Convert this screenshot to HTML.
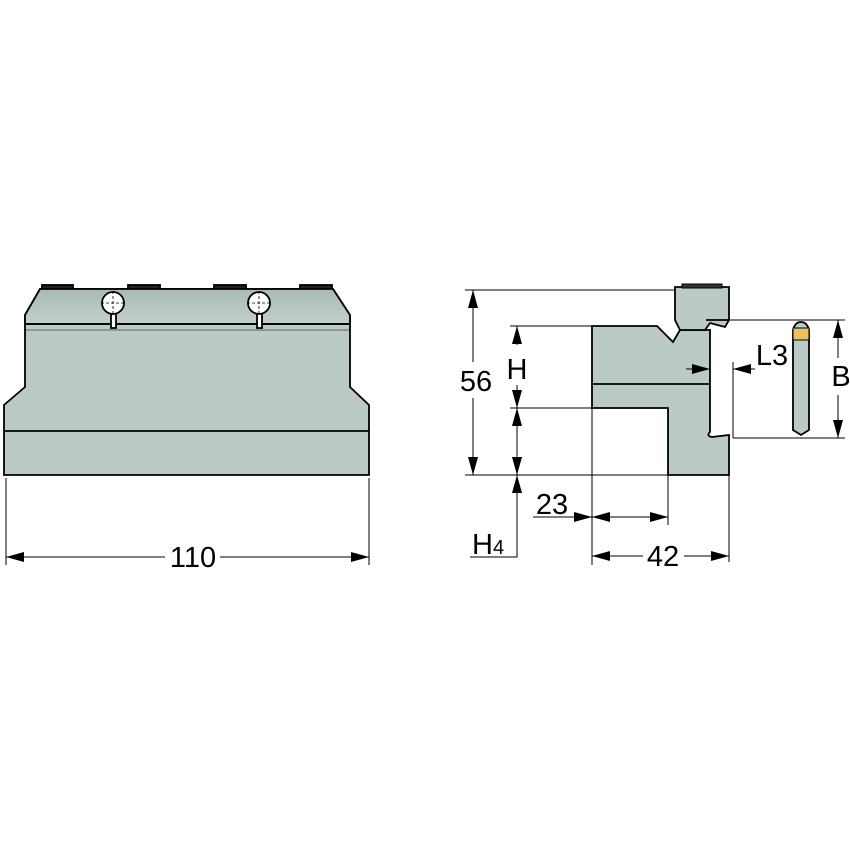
<!DOCTYPE html>
<html><head><style>html,body{margin:0;background:#fff}svg{display:block}</style></head><body>
<svg width="850" height="850" viewBox="0 0 850 850" xmlns="http://www.w3.org/2000/svg" font-family="Liberation Sans, sans-serif">
<defs>
<marker id="a" viewBox="0 0 18 12" refX="18" refY="6" markerWidth="18" markerHeight="12" markerUnits="userSpaceOnUse" orient="auto-start-reverse"><path d="M0,1 L18,6 L0,11z" fill="#000"/></marker>
<linearGradient id="g" x1="0" y1="0" x2="0" y2="1"><stop offset="0" stop-color="#a9bab6"/><stop offset="1" stop-color="#c2d0cd"/></linearGradient>
</defs>
<g stroke="#000" stroke-width="1.8">
<g fill="#222"><rect x="42" y="285" width="31" height="4"/><rect x="128" y="285" width="32" height="4"/><rect x="214" y="285" width="32" height="4"/><rect x="300" y="285" width="32" height="4"/></g>
<path d="M40,289 L333,289 L350,315 L350,387 L369,405 L369,475 L4,475 L4,405 L25,387 L25,315 Z" fill="#bccac7"/>
<path d="M40,289 L333,289 L350,315 L350,324 L25,324 L25,315 Z" fill="url(#g)"/>
<line x1="25" y1="324" x2="350" y2="324"/>
<line x1="25" y1="330" x2="350" y2="330" stroke-width="0.6"/>
<line x1="4" y1="431" x2="369" y2="431"/>
<g fill="#fff"><rect x="111" y="308" width="5" height="20"/><circle cx="113" cy="303" r="11"/><rect x="257" y="308" width="5" height="20"/><circle cx="259" cy="303" r="11"/></g>
<g stroke-width="0.8"><path d="M101,303h24M113,291v24M247,303h24M259,291v24" stroke-dasharray="3,2"/></g>
<path d="M592,326 L657,326 L673,342 L680,330 L710,330 L710,432 Q706,436 712,437 L729,435 L729,475 L668,475 L668,408 L592,408 Z" fill="#bccac7"/>
<line x1="592" y1="384" x2="710" y2="384"/>
<path d="M675,287 L729,287 L729,320 L725,327 L710,323 L705,330 L680,330 L675,320 Z" fill="#bccac7"/>
<rect x="682" y="284" width="40" height="4" fill="#333" stroke-width="1"/>
<line x1="706" y1="320" x2="729" y2="320"/>
<g stroke-width="1" fill="none">
<line x1="465" y1="290" x2="675" y2="290"/>
<line x1="465" y1="475" x2="668" y2="475"/>
<line x1="510" y1="326" x2="592" y2="326"/>
<line x1="510" y1="408" x2="592" y2="408"/>
<line x1="729" y1="320" x2="845" y2="320"/>
<line x1="733" y1="438" x2="845" y2="438"/>
<line x1="592" y1="408" x2="592" y2="565"/>
<line x1="668" y1="475" x2="668" y2="525"/>
<line x1="729" y1="475" x2="729" y2="562"/>
<line x1="733" y1="362" x2="733" y2="438"/>
<line x1="6" y1="478" x2="6" y2="565"/>
<line x1="369" y1="478" x2="369" y2="565"/>
<line x1="473" y1="290" x2="473" y2="362" marker-start="url(#a)"/>
<line x1="473" y1="398" x2="473" y2="475" marker-end="url(#a)"/>
<line x1="517" y1="326" x2="517" y2="345" marker-start="url(#a)"/>
<line x1="517" y1="385" x2="517" y2="408" marker-end="url(#a)"/>
<line x1="517" y1="408" x2="517" y2="475" marker-start="url(#a)" marker-end="url(#a)"/>
<polyline points="470,557 517,557 517,475" marker-end="url(#a)"/>
<line x1="533" y1="517" x2="592" y2="517" marker-end="url(#a)"/>
<line x1="592" y1="517" x2="668" y2="517" marker-start="url(#a)" marker-end="url(#a)"/>
<line x1="592" y1="556" x2="643" y2="556" marker-start="url(#a)"/>
<line x1="684" y1="556" x2="729" y2="556" marker-end="url(#a)"/>
<line x1="686" y1="369" x2="710" y2="369" marker-end="url(#a)"/>
<line x1="755" y1="369" x2="733" y2="369" marker-end="url(#a)"/>
<line x1="838" y1="320" x2="838" y2="358" marker-start="url(#a)"/>
<line x1="838" y1="395" x2="838" y2="438" marker-end="url(#a)"/>
<line x1="6" y1="557" x2="165" y2="557" marker-start="url(#a)"/>
<line x1="220" y1="557" x2="369" y2="557" marker-end="url(#a)"/>
</g>
<path d="M793,330 Q795,322 801,322 Q807,322 809,330 L809,430 L801,435 L793,430 Z" fill="#bccac7"/>
<rect x="793" y="328" width="16" height="12" fill="#e8c163" stroke-width="1"/>
</g>
<g font-size="29" fill="#000">
<text x="476" y="391" text-anchor="middle">56</text>
<text x="517" y="379" text-anchor="middle">H</text>
<text x="552" y="514" text-anchor="middle">23</text>
<text x="663" y="566" text-anchor="middle">42</text>
<text x="772" y="365" text-anchor="middle">L3</text>
<text x="841" y="386" text-anchor="middle">B</text>
<text x="193" y="567" text-anchor="middle">110</text>
<text x="472" y="554">H<tspan font-size="20">4</tspan></text>
</g>
</svg>
</body></html>
